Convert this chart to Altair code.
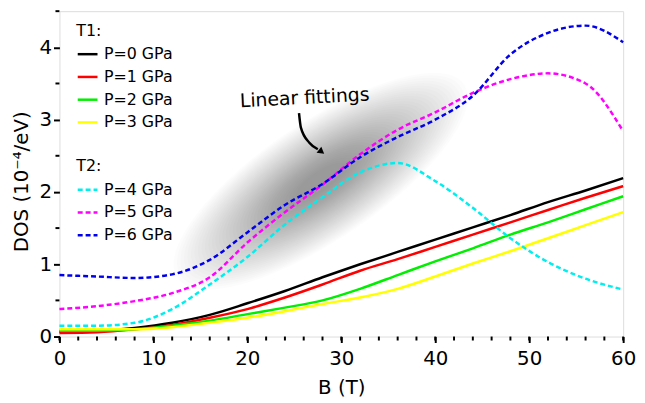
import altair as alt
import pandas as pd
import numpy as np

# ---- data ----
B = [0, 4, 8, 12, 16, 20, 24, 28, 32, 36, 40, 44, 48, 52, 56, 60]

p0 = [0.07, 0.08, 0.12, 0.19, 0.30, 0.46, 0.63, 0.82, 1.00, 1.17, 1.34, 1.51, 1.68, 1.86, 2.02, 2.19]
p1 = [0.05, 0.06, 0.10, 0.16, 0.26, 0.38, 0.54, 0.72, 0.91, 1.07, 1.24, 1.41, 1.58, 1.75, 1.92, 2.08]
p2 = [0.08, 0.08, 0.10, 0.15, 0.22, 0.31, 0.40, 0.50, 0.66, 0.85, 1.04, 1.22, 1.41, 1.58, 1.76, 1.94]
p3 = [0.10, 0.10, 0.10, 0.13, 0.19, 0.26, 0.35, 0.45, 0.54, 0.66, 0.83, 1.01, 1.18, 1.36, 1.54, 1.72]
p4 = [0.15, 0.15, 0.19, 0.38, 0.72, 1.10, 1.55, 1.93, 2.27, 2.40, 2.15, 1.78, 1.36, 1.03, 0.80, 0.65]
p5 = [0.38, 0.42, 0.49, 0.60, 0.82, 1.30, 1.72, 2.10, 2.52, 2.86, 3.10, 3.37, 3.56, 3.64, 3.50, 2.84]
p6 = [0.85, 0.83, 0.81, 0.86, 1.06, 1.44, 1.82, 2.11, 2.48, 2.76, 3.00, 3.33, 3.90, 4.20, 4.30, 4.07]

t1_names = ["P=0 GPa", "P=1 GPa", "P=2 GPa", "P=3 GPa"]
t2_names = ["P=4 GPa", "P=5 GPa", "P=6 GPa"]
t1_colors = ["#000000", "#ff0000", "#00ee00", "#ffff00"]
t2_colors = ["#00eeee", "#ff00ff", "#0000ee"]

x_ticks = [0, 10, 20, 30, 40, 50, 60]
y_ticks = [0, 1, 2, 3, 4]
x_minor = list(range(0, 61, 2))
y_minor = [0.5, 1.5, 2.5, 3.5, 4.5]

annot_text = ["Linear fittings"]
annot_B = [26.1]
annot_DOS = [3.30]
arrow_B = [25.5, 25.7, 26.6, 27.5]
arrow_DOS = [3.09, 2.89, 2.68, 2.59]
head_B = [27.9]
head_DOS = [2.555]
shadow_B = [27.8]
shadow_DOS = [2.15]

# ---- tables ----
rows = []
for name, vals in zip(t1_names, [p0, p1, p2, p3]):
    for b, v in zip(B, vals):
        rows.append({"B": b, "DOS": v, "series": name})
df1 = pd.DataFrame(rows)
rows = []
for name, vals in zip(t2_names, [p4, p5, p6]):
    for b, v in zip(B, vals):
        rows.append({"B": b, "DOS": v, "series": name})
df2 = pd.DataFrame(rows)

W, H = 570, 329
xs = alt.Scale(domain=[0, 60], nice=False, zero=False)
ys = alt.Scale(domain=[0, 4.5], nice=False, zero=False)

# blurred shadow approximated by stacked translucent ellipses
lengths = np.linspace(60, 350, 36)
shadow_df = pd.DataFrame({"B": shadow_B * len(lengths), "DOS": shadow_DOS * len(lengths),
                          "s": (lengths ** 2)})
ellipse = "M -1 0 A 1 0.34 0 1 0 1 0 A 1 0.34 0 1 0 -1 0 Z"
shadow = alt.Chart(shadow_df).mark_point(
    shape=ellipse, filled=True, color="black", opacity=0.013, strokeWidth=0, angle=326
).encode(
    x=alt.X("B:Q", scale=xs),
    y=alt.Y("DOS:Q", scale=ys),
    size=alt.Size("s:Q", scale=None, legend=None),
)

base_x = alt.X("B:Q", scale=xs, axis=alt.Axis(
    values=x_ticks, title="B (T)", grid=False, domain=False, tickSize=6, tickWidth=2,
    tickColor="black", labelFontSize=20, labelPadding=6, labelColor="black", format="d",
    titleFontSize=20, titleFontWeight="normal", titlePadding=10, titleColor="black", labelFlush=False))
base_y = alt.Y("DOS:Q", scale=ys, axis=alt.Axis(
    values=y_ticks, title="DOS (10⁻⁴/eV)", grid=False, domain=False, tickSize=6, tickWidth=2,
    tickColor="black", labelFontSize=20, labelPadding=2, labelColor="black", format="d",
    titleFontSize=20, titleFontWeight="normal", titlePadding=8, titleColor="black", titleY=172))

lines1 = alt.Chart(df1).mark_line(strokeWidth=2.5, interpolate="monotone").encode(
    x=base_x, y=base_y,
    color=alt.Color("series:N", scale=alt.Scale(domain=t1_names, range=t1_colors),
                    legend=alt.Legend(title="T1:", orient="none", legendX=17, legendY=12,
                                      titleFontSize=16, titleFontWeight="normal", titleColor="black",
                                      labelFontSize=16, labelColor="black", symbolType="stroke",
                                      symbolSize=400, symbolStrokeWidth=2.5, labelOffset=5,
                                      rowPadding=3, titlePadding=4)),
)
lines2 = alt.Chart(df2).mark_line(strokeWidth=2.5, strokeDash=[5, 3], interpolate="monotone").encode(
    x=alt.X("B:Q", scale=xs), y=alt.Y("DOS:Q", scale=ys),
    color=alt.Color("series:N", scale=alt.Scale(domain=t2_names, range=t2_colors),
                    legend=alt.Legend(title="T2:", orient="none", legendX=17, legendY=149,
                                      titleFontSize=16, titleFontWeight="normal", titleColor="black",
                                      labelFontSize=16, labelColor="black", symbolType="stroke",
                                      symbolSize=400, symbolStrokeWidth=2.5, symbolDash=[5, 3],
                                      labelOffset=5, rowPadding=3, titlePadding=4)),
)

xminor = alt.Chart(pd.DataFrame({"B": x_minor})).mark_rule(color="black", strokeWidth=2).encode(
    x=alt.X("B:Q", scale=xs), y=alt.value(H), y2=alt.value(H + 4))
yminor = alt.Chart(pd.DataFrame({"DOS": y_minor})).mark_rule(color="black", strokeWidth=2).encode(
    y=alt.Y("DOS:Q", scale=ys), x=alt.value(0), x2=alt.value(-4))

annot = alt.Chart(pd.DataFrame({"B": annot_B, "DOS": annot_DOS, "t": annot_text})).mark_text(
    fontSize=19, color="black", angle=357, font="DejaVu Sans").encode(
    x=alt.X("B:Q", scale=xs), y=alt.Y("DOS:Q", scale=ys), text="t:N")
arrow = alt.Chart(pd.DataFrame({"B": arrow_B, "DOS": arrow_DOS, "o": list(range(len(arrow_B)))})).mark_line(
    color="black", strokeWidth=2.5, interpolate="monotone").encode(
    x=alt.X("B:Q", scale=xs), y=alt.Y("DOS:Q", scale=ys), order="o:Q")
head = alt.Chart(pd.DataFrame({"B": head_B, "DOS": head_DOS})).mark_point(
    shape="triangle-down", filled=True, color="black", size=60, angle=308, opacity=1).encode(
    x=alt.X("B:Q", scale=xs), y=alt.Y("DOS:Q", scale=ys))

chart = alt.layer(shadow, xminor, yminor, lines1, lines2, annot, arrow, head).resolve_scale(
    color="independent"
).properties(
    width=W, height=H,
    autosize=alt.AutoSizeParams(type="none"),
    padding={"left": 52, "top": 1, "right": 14, "bottom": 66},
).configure_view(
    stroke="black", strokeWidth=2.5
).configure(font="DejaVu Sans")

chart.save("out.html", embed_options={"renderer": "svg", "actions": False})
